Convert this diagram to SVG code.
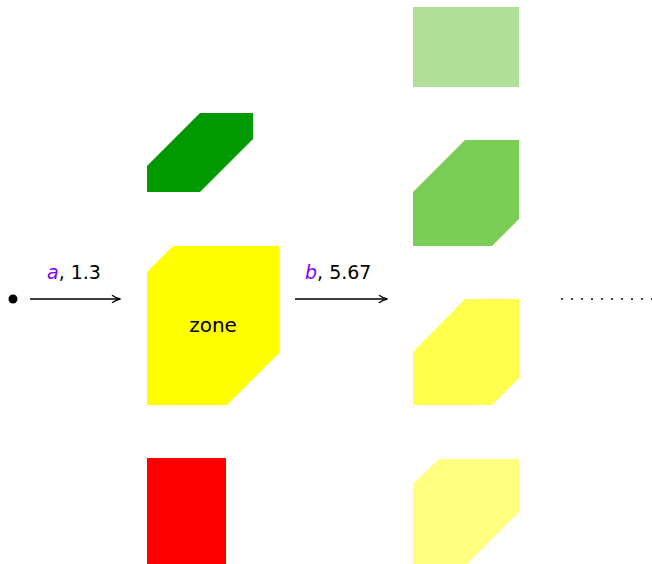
<svg xmlns="http://www.w3.org/2000/svg" width="652" height="564" viewBox="0 0 652 564">
<style>
.lbl{font-family:"DejaVu Sans","Liberation Sans",sans-serif;font-size:19px;fill:#000}
.var{font-style:italic;fill:#8000ff}
.edge{stroke:#000;stroke-width:1.5;fill:none}
</style>
<defs>
<marker id="arr" viewBox="0 0 10 10" refX="9" refY="5" markerWidth="10" markerHeight="10" markerUnits="userSpaceOnUse" orient="auto">
<path d="M1,1.2 Q5,4.2 9.5,5 Q5,5.8 1,8.8" fill="none" stroke="#000" stroke-width="1.3"/>
</marker>
</defs>
<rect width="652" height="564" fill="#fff"/>
<g id="node-lightgreen"><rect x="413" y="7" width="106" height="80" fill="#b1e09a"/></g>
<g id="node-darkgreen"><polygon points="147,166 200,113 253,113 253,139 200,192 147,192" fill="#009900"/></g>
<g id="node-midgreen"><polygon points="413,192 465,140 519,140 519,219 492,246 413,246" fill="#7ccd55"/></g>
<g id="node-zone"><polygon points="147,272 173,246 279,246 279,353 227,405 147,405" fill="#ffff00"/>
<text x="213" y="332" text-anchor="middle" font-family="'DejaVu Sans','Liberation Sans',sans-serif" font-size="20">zone</text></g>
<g id="node-yellow2"><polygon points="413,352 465,299 519,299 519,378 492,405 413,405" fill="#ffff4d"/></g>
<g id="node-yellow3"><polygon points="413,484 439,459 519,459 519,512 465,566 413,566" fill="#ffff80"/></g>
<g id="node-red"><rect x="147" y="458" width="79" height="110" fill="#ff0000"/></g>
<g id="node-start"><circle cx="13" cy="299" r="4.5" fill="#000"/></g>
<g id="connectors">
<line class="edge" x1="30" y1="299" x2="120" y2="299" marker-end="url(#arr)"/>
<line class="edge" x1="295" y1="299" x2="387" y2="299" marker-end="url(#arr)"/>
<g fill="#000">
<circle cx="562" cy="299" r="1"/><circle cx="572" cy="299" r="1"/><circle cx="582" cy="299" r="1"/><circle cx="592" cy="299" r="1"/><circle cx="602" cy="299" r="1"/><circle cx="612" cy="299" r="1"/><circle cx="622" cy="299" r="1"/><circle cx="632" cy="299" r="1"/><circle cx="642" cy="299" r="1"/><circle cx="652" cy="299" r="1"/>
</g>
<text class="lbl" x="47" y="279"><tspan class="var">a</tspan>, 1.3</text>
<text class="lbl" x="305" y="279"><tspan class="var">b</tspan>, 5.67</text>
</g>
</svg>
